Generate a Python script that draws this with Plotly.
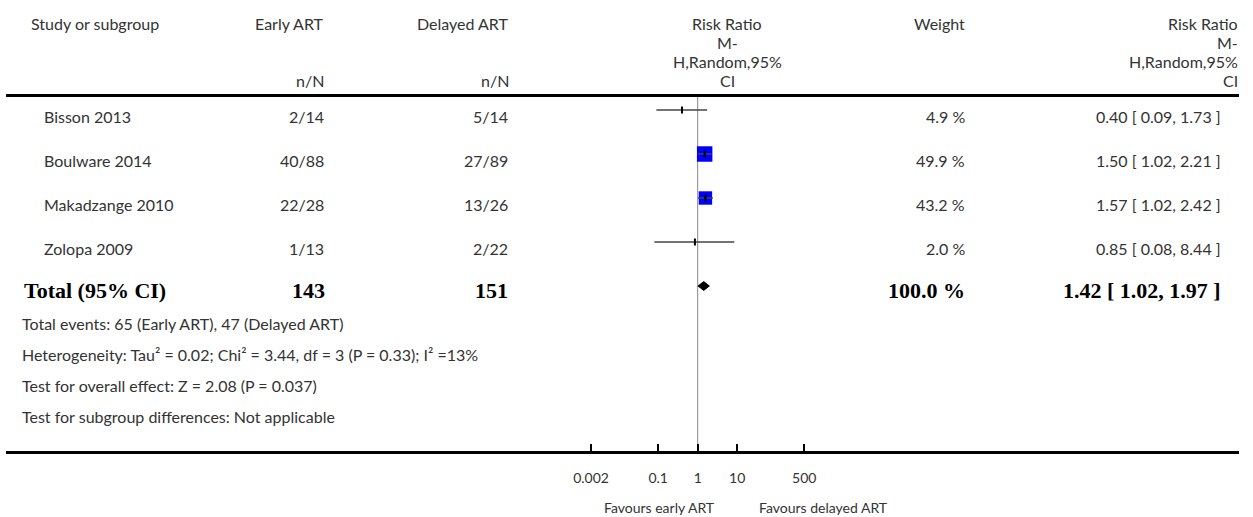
import plotly.graph_objects as go

# ---------------- data ----------------
studies = ["Bisson 2013", "Boulware 2014", "Makadzange 2010", "Zolopa 2009"]
early_nN = ["2/14", "40/88", "22/28", "1/13"]
delayed_nN = ["5/14", "27/89", "13/26", "2/22"]
rr = [0.40, 1.50, 1.57, 0.85]
rr_lo = [0.09, 1.02, 1.02, 0.08]
rr_hi = [1.73, 2.21, 2.42, 8.44]
weights = [4.9, 49.9, 43.2, 2.0]

total_label = "Total (95% CI)"
total_early = "143"
total_delayed = "151"
total_weight = 100.0
total_rr, total_lo, total_hi = 1.42, 1.02, 1.97

footnotes = [
    "Total events: 65 (Early ART), 47 (Delayed ART)",
    "Heterogeneity: Tau² = 0.02; Chi² = 3.44, df = 3 (P = 0.33); I² =13%",
    "Test for overall effect: Z = 2.08 (P = 0.037)",
    "Test for subgroup differences: Not applicable",
]
tick_vals = [0.002, 0.1, 1, 10, 500]
tick_text = ["0.002", "0.1", "1", "10", "500"]
favours_left = "Favours early ART"
favours_right = "Favours delayed ART"
null_value = 1

# ---------------- layout helpers ----------------
W, H = 1253, 517
ML, MR, MT, MB = 6, 14, 97, 66
PW = W - ML - MR
PH = H - MT - MB
ROW0, ROWSTEP = 110, 44
TEXT_DROP = 6


def px(xpix):
    return (xpix - ML) / PW


def py(ypix):
    return (H - MB - ypix) / PH


FONT = "Lato"
TXT = "#333333"
SERIF = "Liberation Serif"
FS = 16
BFS = 22

fig = go.Figure()

rows = list(range(len(studies)))
total_row = len(studies)

# squares (size proportional to weight)
fig.add_trace(go.Scatter(
    x=rr, y=rows, mode="markers",
    marker=dict(symbol="square", color="#0000ff", opacity=1,
                size=[0.31 * w for w in weights], line=dict(width=0)),
    hoverinfo="skip", showlegend=False))

# CI lines
for i in rows:
    fig.add_trace(go.Scatter(
        x=[rr_lo[i], rr_hi[i]], y=[i, i], mode="lines",
        line=dict(color="#444444", width=1.5), hoverinfo="skip", showlegend=False))

# point ticks
fig.add_trace(go.Scatter(
    x=rr, y=rows, mode="markers",
    marker=dict(symbol="line-ns", size=5, line=dict(color="#000000", width=2)),
    hoverinfo="skip", showlegend=False))

# diamond
dh = 0.1
fig.add_trace(go.Scatter(
    x=[total_lo, total_rr, total_hi, total_rr, total_lo],
    y=[total_row, total_row - dh, total_row, total_row + dh, total_row],
    mode="lines", fill="toself", fillcolor="#000000",
    line=dict(color="#000000", width=1), hoverinfo="skip", showlegend=False))

# null line
fig.add_shape(type="line", xref="x", yref="paper", x0=null_value, x1=null_value,
              y0=0, y1=1, line=dict(color="#888888", width=1), layer="below")

ann = []


def add(text, xpix, ypix, anchor, size=FS, bold_serif=False):
    ann.append(dict(
        text=text, x=px(xpix), y=py(ypix), xref="paper", yref="paper",
        xanchor=anchor, yanchor="middle", showarrow=False,
        font=dict(family=SERIF if bold_serif else FONT,
                  size=size, color="#000000" if bold_serif else TXT)))


def row_y(i):
    return ROW0 + ROWSTEP * i + TEXT_DROP


# header
add("Study or subgroup", 29, 23, "left")
add("Early ART", 326, 23, "right")
add("Delayed ART", 511, 23, "right")
add("n/N", 326, 80, "right")
add("n/N", 511, 80, "right")
hdr_lines = ["Risk Ratio", "M-", "H,Random,95%", "CI"]
hdr_y = [23, 42, 61, 80]
for t, yy in zip(hdr_lines, hdr_y):
    add(t, 727, yy, "center")
    add(t, 1240, yy, "right")
add("Weight", 967, 23, "right")

# study rows
for i in rows:
    y = row_y(i)
    add(studies[i], 42, y, "left")
    add(early_nN[i], 326, y, "right")
    add(delayed_nN[i], 510, y, "right")
    add(f"{weights[i]:.1f} %", 967, y, "right")
    add(f"{rr[i]:.2f} [ {rr_lo[i]:.2f}, {rr_hi[i]:.2f} ]", 1223, y, "right")

# total row (bold serif)
yt = row_y(total_row) - 2
add(f"<b>{total_label}</b>", 22, yt, "left", BFS, True)
add(f"<b>{total_early}</b>", 327, yt, "right", BFS, True)
add(f"<b>{total_delayed}</b>", 510, yt, "right", BFS, True)
add(f"<b>{total_weight:.1f} %</b>", 967, yt, "right", BFS, True)
add(f"<b>{total_rr:.2f} [ {total_lo:.2f}, {total_hi:.2f} ]</b>", 1223, yt, "right", BFS, True)

# footnotes
for k, t in enumerate(footnotes):
    add(t, 20, 323 + 31 * k, "left")

# favours labels
for txt, anc, sh in [(favours_left, "right", -20), (favours_right, "left", 20)]:
    ann.append(dict(text=txt, x=null_value, xref="x", y=py(507), yref="paper",
                    xanchor=anc, xshift=sh, yanchor="middle", showarrow=False,
                    font=dict(family=FONT, size=14, color=TXT)))

# x range: 39.5 px per decade, null at x=697.7
ppd = 39.5
x0 = 697.7
fig.update_layout(
    width=W, height=H,
    margin=dict(l=ML, r=MR, t=MT, b=MB),
    paper_bgcolor="white", plot_bgcolor="white",
    showlegend=False,
    annotations=ann,
    xaxis=dict(type="log",
               range=[(ML - x0) / ppd, (W - MR - x0) / ppd],
               tickvals=tick_vals, ticktext=tick_text,
               ticks="inside", ticklen=7, tickwidth=2, tickcolor="#000000",
               showline=True, linecolor="#000000", linewidth=3, mirror=True,
               showgrid=False, zeroline=False,
               ticklabelstandoff=12,
               tickfont=dict(family=FONT, size=14, color=TXT),
               fixedrange=True),
    yaxis=dict(range=[(H - MB - ROW0) / ROWSTEP, (MT - ROW0) / ROWSTEP],
               visible=False, showgrid=False, zeroline=False, fixedrange=True),
)

fig.write_html("out.html", config={"displayModeBar": False},
               post_script="document.body.style.margin='0';")
